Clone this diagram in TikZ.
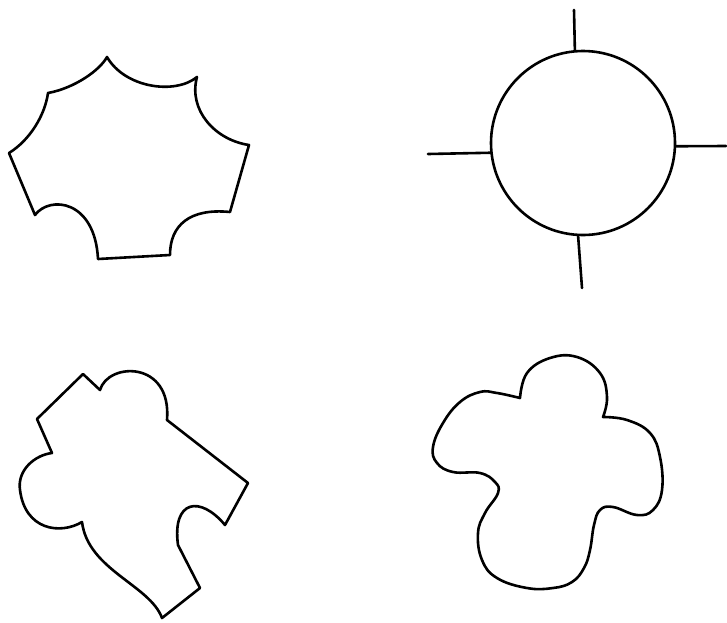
\documentclass[tikz,border=0pt]{standalone}
\usetikzlibrary{positioning}

\begin{document}
\begin{tikzpicture}[
    x=0.5pt, y=-0.5pt,
    outline/.style={draw, line width=1.3pt, line join=round, line cap=round},
    ring/.style={outline, circle, inner sep=0pt, minimum size=92pt}
  ]
    \useasboundingbox (0,0) rectangle (727,622);

    \draw[outline] (107,57) .. controls (100,70) and (75,88) .. (48,93)
      .. controls (45,115) and (30,140) .. (9,153)
      -- (35,215)
      .. controls (50,195) and (95,200) .. (98,259)
      -- (170,255)
      .. controls (170,225) and (190,208) .. (230,212)
      -- (249,145)
      .. controls (215,140) and (188,110) .. (197,77)
      .. controls (175,95) and (125,88) .. cycle;

    \node[ring] (disc) at (583,143) {};
    \coordinate (spokeN) at (574,10);
    \coordinate (spokeW) at (428,154);
    \coordinate (spokeE) at (726,146);
    \coordinate (spokeS) at (582,288);
    \draw[outline] (disc.95) -- (spokeN);
    \draw[outline] (disc.186) -- (spokeW);
    \draw[outline] (disc.358) -- (spokeE);
    \draw[outline] (disc.267) -- (spokeS);

    \draw[outline] (83,374) -- (100,390)
      .. controls (108,362) and (172,360) .. (167,420)
      -- (248,483) -- (225,525)
      .. controls (200,495) and (172,500) .. (178,545)
      -- (200,588) -- (162,618)
      .. controls (150,585) and (88,570) .. (82,522)
      .. controls (60,535) and (25,530) .. (20,490)
      .. controls (17,470) and (35,455) .. (52,453)
      -- (37,419) -- cycle;

    \draw[outline] plot[smooth, tension=0.7] coordinates {
        (520,398) (527,373) (550,358) (577,357) (600,373) (607,397) (603,417)}
      -- plot[smooth, tension=0.7] coordinates {
        (603,417) (627,420) (650,433) (660,457) (662,490) (653,510) (637,515)
        (613,507) (600,510) (594,525) (590,550) (584,568) (572,582) (553,588)
        (527,588) (497,578) (482,560) (478,533) (485,513) (498,493) (495,482)
        (480,473) (453,472) (437,463) (433,447) (443,423) (460,402) (480,392)
        (497,393) (520,398)}
      -- cycle;
  \end{tikzpicture}
\end{document}
